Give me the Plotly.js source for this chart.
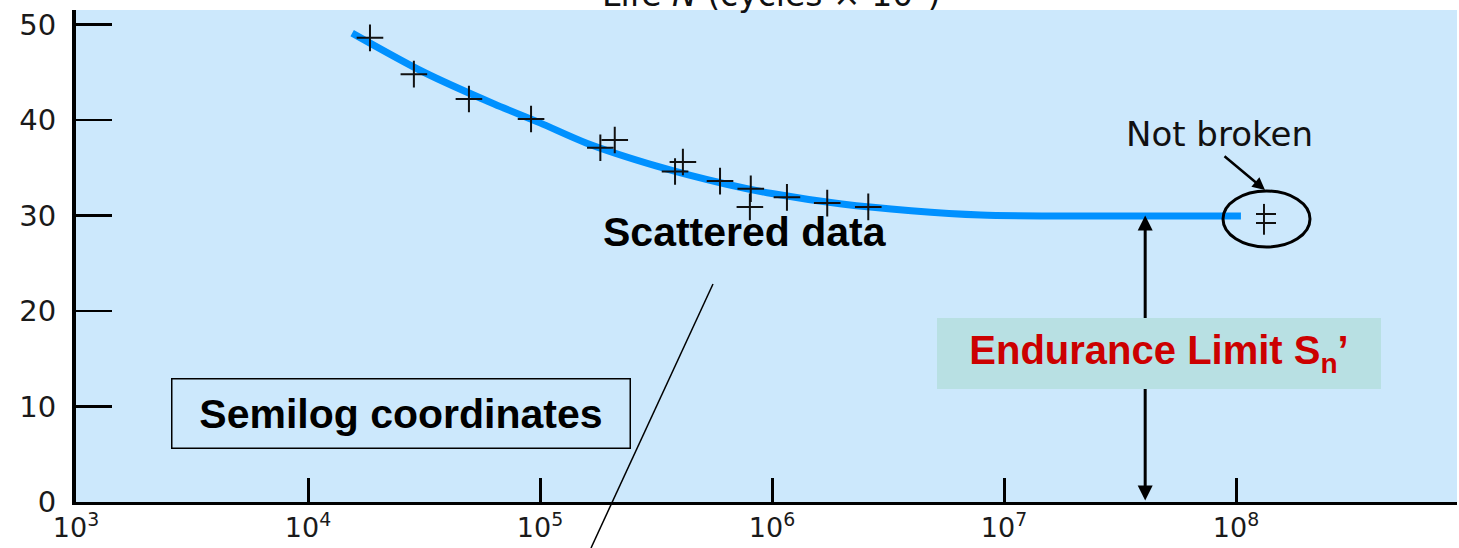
<!DOCTYPE html>
<html>
<head>
<meta charset="utf-8">
<script src="https://cdn.plot.ly/plotly-3.0.1.min.js"></script>
<style>html,body{margin:0;padding:0;background:#fff;}#chart{width:1459px;height:548px;}</style>
</head>
<body>
<div id="chart"></div>
<script>
// ---- data ----
const curveN = [1.55e4, 3.16e4, 6.31e4, 1.0e5, 1.58e5, 3.16e5, 6.31e5, 1.0e6, 2.0e6, 3.98e6, 7.94e6, 1.58e7, 1.05e8];
const curveS = [49.1, 45.0, 41.7, 39.7, 37.6, 35.2, 33.3, 32.3, 31.2, 30.5, 30.05, 29.95, 29.95];
const testN = [1.85e4, 2.86e4, 4.94e4, 9.15e4, 1.82e5, 2.1e5, 3.82e5, 4.13e5, 5.97e5, 8.1e5, 8.03e5, 1.16e6, 1.73e6, 2.6e6];
const testS = [48.6, 44.8, 42.2, 40.1, 37.1, 37.9, 34.6, 35.6, 33.6, 32.8, 30.9, 31.9, 31.3, 30.9];
const runoutN = [1.32e8];
const runoutS = [29.6];
const enduranceN = [4.06e7];
const enduranceS = [30];
const xTickVals = [1e3, 1e4, 1e5, 1e6, 1e7, 1e8];
const xTickText = ['10<sup>3</sup>', '10<sup>4</sup>', '10<sup>5</sup>', '10<sup>6</sup>', '10<sup>7</sup>', '10<sup>8</sup>'];
const yTickVals = [0, 10, 20, 30, 40, 50];

const yTickFont = {family: 'DejaVu Sans, sans-serif', size: 29, color: '#1a1a1a'};
const xTickFont = {family: 'DejaVu Sans, sans-serif', size: 27, color: '#1a1a1a'};
const boldFont = 'Arial, Liberation Sans, sans-serif';

const traces = [
  {x: curveN, y: curveS, mode: 'lines', line: {color: '#0091FF', width: 7, shape: 'spline', smoothing: 0.8}, hoverinfo: 'skip'},
  {x: testN, y: testS, mode: 'markers', marker: {symbol: 'cross-thin-open', size: 19, color: '#111', line: {color: '#111', width: 2}}},
  {x: runoutN, y: runoutS, mode: 'markers', marker: {symbol: 'line-ns-open', size: 22, color: '#111', line: {color: '#111', width: 2}}}
];

const L = 76, T = 10, W = 1381, H = 492;
function px(v) { return (v - L) / W; }
function py(v) { return (T + H - v) / H; }

const layout = {
  width: 1459, height: 548,
  margin: {l: L, r: 1459 - L - W, t: T, b: 548 - T - H, pad: 0},
  paper_bgcolor: '#ffffff',
  plot_bgcolor: '#CCE8FC',
  showlegend: false,
  xaxis: {
    type: 'log', range: [3, 3 + W / 232],
    tickvals: xTickVals, ticktext: xTickText,
    ticks: 'inside', ticklen: 24, tickwidth: 3, tickcolor: '#000',
    showline: true, linecolor: '#000', linewidth: 2.5,
    showgrid: false, zeroline: false,
    tickfont: xTickFont, ticklabelstandoff: 0
  },
  yaxis: {
    range: [0, H / 9.55],
    tickvals: yTickVals,
    ticks: 'inside', ticklen: 36, tickwidth: 2.5, tickcolor: '#000',
    showline: true, linecolor: '#000', linewidth: 4,
    showgrid: false, zeroline: false,
    tickfont: yTickFont, ticklabelstandoff: 10
  },
  shapes: [
    {type: 'circle', xref: 'paper', yref: 'paper', x0: px(1223), x1: px(1310), y0: py(247), y1: py(191), line: {color: '#000', width: 3}},
    {type: 'line', xref: 'paper', yref: 'paper', x0: px(1256), x1: px(1276), y0: py(214), y1: py(214), line: {color: '#111', width: 2}},
    {type: 'line', xref: 'paper', yref: 'paper', x0: px(1256), x1: px(1276), y0: py(223), y1: py(223), line: {color: '#111', width: 2}},
    {type: 'line', xref: 'paper', yref: 'paper', x0: px(713), y0: py(284), x1: px(591), y1: py(548), line: {color: '#000', width: 1.5}}
  ],
  annotations: [
    {xref: 'paper', yref: 'paper', x: px(772), y: py(16), xanchor: 'center', yanchor: 'bottom', showarrow: false,
     text: 'Life <i>N</i> (cycles × 10<sup>3</sup>)', font: {family: 'DejaVu Sans, sans-serif', size: 33, color: '#111'}},
    {x: Math.log10(enduranceN[0]), y: enduranceS[0], ax: Math.log10(enduranceN[0]), ay: 0, xref: 'x', yref: 'y', axref: 'x', ayref: 'y',
     text: '', showarrow: true, arrowhead: 2, startarrowhead: 2, arrowside: 'end+start', arrowsize: 1, startarrowsize: 1, arrowwidth: 3, arrowcolor: '#000', standoff: 0, startstandoff: 0},
    {xref: 'paper', yref: 'paper', x: px(1159), y: py(353.5), xanchor: 'center', yanchor: 'middle', showarrow: false,
     text: '<b>Endurance Limit S<sub>n</sub>’</b>', font: {family: boldFont, size: 40, color: '#CC0000'},
     bgcolor: '#B8E0E3', width: 444, height: 71, borderpad: 0, borderwidth: 0},
    {xref: 'paper', yref: 'paper', x: px(400.5), y: py(413), xanchor: 'center', yanchor: 'middle', showarrow: false,
     text: '<b>Semilog coordinates</b>', font: {family: boldFont, size: 41, color: '#000'},
     width: 457, height: 68, borderpad: 0, borderwidth: 1.5, bordercolor: '#000'},
    {xref: 'paper', yref: 'paper', x: px(745), y: py(232), xanchor: 'center', yanchor: 'middle', showarrow: false,
     text: '<b>Scattered data</b>', font: {family: boldFont, size: 41, color: '#000'}},
    {xref: 'paper', yref: 'paper', x: px(1219), y: py(134), xanchor: 'center', yanchor: 'middle', showarrow: false,
     text: 'Not broken', font: {family: 'DejaVu Sans, sans-serif', size: 34, color: '#111'}},
    {xref: 'paper', yref: 'paper', x: px(1265), y: py(190), showarrow: true, text: '', ax: -42, ay: -35,
     arrowhead: 2, arrowsize: 1, arrowwidth: 2.5, arrowcolor: '#000', standoff: 0}
  ]
};

Plotly.newPlot('chart', traces, layout, {displayModeBar: false, staticPlot: true});
</script>
</body>
</html>
